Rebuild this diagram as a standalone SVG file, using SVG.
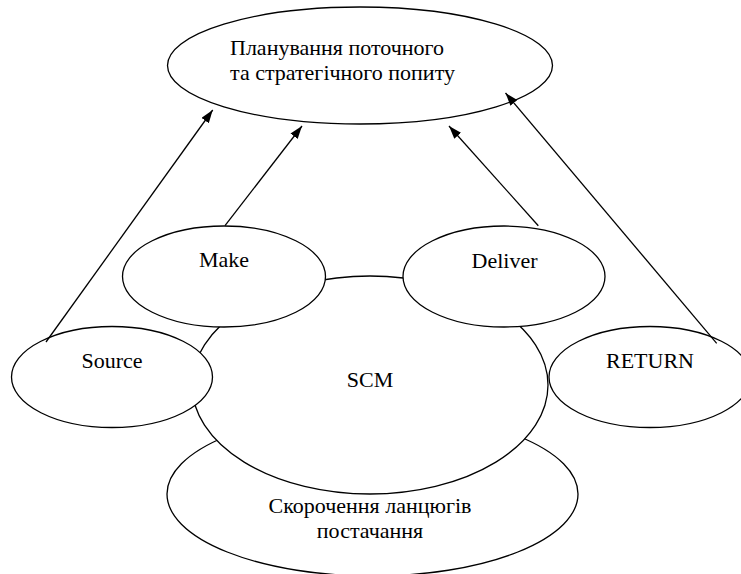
<svg xmlns="http://www.w3.org/2000/svg" width="741" height="574" viewBox="0 0 741 574">
<style>
.shape{fill:#fff;stroke:#000;stroke-width:1.3}
text{font-family:'Liberation Serif','Times New Roman','DejaVu Serif',serif;font-size:22px;fill:#000}
.mid{text-anchor:middle}
.conn{stroke:#000;stroke-width:1.3;fill:none;marker-end:url(#arr)}
</style>
<defs>
<marker id="arr" markerUnits="userSpaceOnUse" markerWidth="14" markerHeight="10" refX="13" refY="4.5" orient="auto">
<path d="M0,0 L13,4.5 L0,9 z" fill="#000"/>
</marker>
</defs>
<rect width="741" height="574" fill="#fff"/>
<g id="reduce">
<ellipse class="shape" cx="372.5" cy="494" rx="205.5" ry="82"/>
<text class="mid" x="370" y="513" font-family="Liberation Serif, serif">Скорочення ланцюгів</text>
<text class="mid" x="370" y="538" font-family="Liberation Serif, serif">постачання</text>
</g>
<g id="scm">
<ellipse class="shape" cx="370" cy="385" rx="178" ry="109"/>
<text class="mid" x="370" y="387" font-family="Liberation Serif, serif">SCM</text>
</g>
<g id="make">
<ellipse class="shape" cx="224" cy="276.5" rx="101.5" ry="50.5"/>
<text class="mid" x="224" y="267" font-family="Liberation Serif, serif">Make</text>
</g>
<g id="deliver">
<ellipse class="shape" cx="504" cy="276.5" rx="101" ry="50.5"/>
<text class="mid" x="504.5" y="268" font-family="Liberation Serif, serif">Deliver</text>
</g>
<g id="source">
<ellipse class="shape" cx="112" cy="377" rx="100.5" ry="50.5"/>
<text class="mid" x="112" y="368" font-family="Liberation Serif, serif">Source</text>
</g>
<g id="return">
<ellipse class="shape" cx="650" cy="377" rx="101" ry="50.5"/>
<text class="mid" x="650" y="368" font-family="Liberation Serif, serif">RETURN</text>
</g>
<g id="planning">
<ellipse class="shape" cx="360" cy="65.5" rx="192.5" ry="58.5"/>
<text x="230" y="55" font-family="Liberation Serif, serif">Планування поточного</text>
<text x="230" y="80" font-family="Liberation Serif, serif">та стратегічного попиту</text>
</g>
<g id="connectors">
<line class="conn" x1="46" y1="342" x2="212.7" y2="110"/>
<line class="conn" x1="225" y1="225.7" x2="302" y2="126"/>
<line class="conn" x1="538.3" y1="225.7" x2="449" y2="126"/>
<line class="conn" x1="716.7" y1="343.3" x2="505.5" y2="93"/>
</g>
</svg>
